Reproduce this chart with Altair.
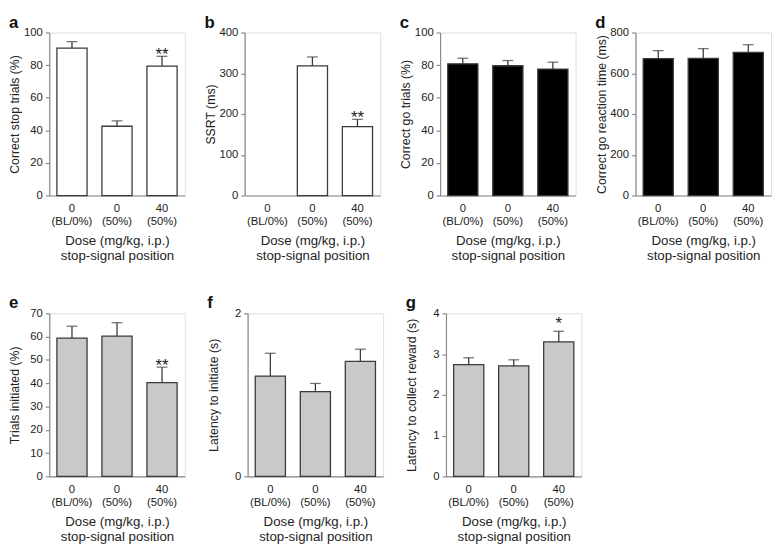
import altair as alt
import pandas as pd

# Condition labels (dose | stop-signal position)
categories = ["0|(BL/0%)", "0|(50%)", "40|(50%)"]

# a: Correct stop trials (%)
a_mean = [90.4, 42.5, 79.4]
a_sem = [4.0, 3.3, 6.0]
a_sig = ["", "", "**"]

# b: SSRT (ms) - no value for baseline
b_mean = [None, 318.0, 169.0]
b_sem = [None, 22.0, 18.0]
b_sig = ["", "", "**"]

# c: Correct go trials (%)
c_mean = [80.8, 79.6, 77.6]
c_sem = [3.4, 3.2, 4.2]
c_sig = ["", "", ""]

# d: Correct go reaction time (ms)
d_mean = [672.0, 673.0, 703.0]
d_sem = [39.0, 48.0, 37.0]
d_sig = ["", "", ""]

# e: Trials initiated (%)
e_mean = [59.4, 60.2, 40.3]
e_sem = [5.1, 5.8, 6.6]
e_sig = ["", "", "**"]

# f: Latency to initiate (s)
f_mean = [1.23, 1.04, 1.41]
f_sem = [0.28, 0.10, 0.15]
f_sig = ["", "", ""]

# g: Latency to collect reward (s)
g_mean = [2.74, 2.71, 3.30]
g_sem = [0.17, 0.15, 0.26]
g_sig = ["", "", "*"]

FONT = "Liberation Sans"
TEXT = "#222222"
AXIS = "#8a8a8a"
EDGE = "#3a3a3a"
W, H = 138, 166


def panel(letter, means, sems, sig, fill, ymax, ystep, ytitle, star_dy):
    df = pd.DataFrame({"cond": categories, "mean": means, "sem": sems, "sig": sig})
    df["hi"] = df["mean"] + df["sem"]

    xenc = alt.X(
        "cond:N",
        scale=alt.Scale(domain=categories, paddingInner=0.33, paddingOuter=0.17),
        axis=alt.Axis(
            title=["Dose (mg/kg, i.p.)", "stop-signal position"],
            labelExpr="split(datum.value, '|')",
            labelAngle=0,
            ticks=False,
            labelPadding=7,
            labelLineHeight=13.5,
            labelFontSize=11.5,
            labelColor=TEXT,
            labelFont=FONT,
            titleFont=FONT,
            titleFontSize=13.5,
            titleLineHeight=15.5,
            titlePadding=7,
            titleFontWeight="normal",
            titleColor=TEXT,
            domainColor=AXIS,
            domainWidth=1.2,
        ),
    )

    yaxis = alt.Axis(
        values=list(range(0, ymax + 1, ystep)),
        format="d",
        title=ytitle,
        grid=False,
        tickSize=4,
        tickColor=AXIS,
        tickWidth=1.2,
        domainColor=AXIS,
        domainWidth=1.2,
        labelFontSize=11.5,
        labelColor=TEXT,
        labelFont=FONT,
        labelPadding=3,
        minExtent=25,
        maxExtent=25,
        titleFont=FONT,
        titleFontSize=12.5,
        titleFontWeight="normal",
        titleColor=TEXT,
        titlePadding=3,
    )
    yscale = alt.Scale(domain=[0, ymax], nice=False)

    base = alt.Chart(df)
    bars = base.mark_bar(fill=fill, stroke=EDGE, strokeWidth=1.3).encode(
        x=xenc, y=alt.Y("mean:Q", scale=yscale, axis=yaxis)
    )
    stems = base.mark_rule(color=EDGE, strokeWidth=1.3).encode(
        x=xenc, y=alt.Y("mean:Q", scale=yscale, axis=yaxis), y2="hi:Q"
    )
    caps = base.mark_tick(color=EDGE, thickness=1.3, size=11, orient="horizontal").encode(
        x=xenc, y=alt.Y("hi:Q", scale=yscale, axis=yaxis)
    )
    stars = base.mark_text(
        fontSize=17, font=FONT, color=TEXT, baseline="alphabetic", dy=star_dy
    ).encode(x=xenc, y=alt.Y("hi:Q", scale=yscale, axis=yaxis), text="sig:N")

    return alt.layer(bars, stems, caps, stars).properties(
        width=W,
        height=H,
        title=alt.TitleParams(
            text=letter,
            anchor="start",
            frame="bounds",
            fontSize=17,
            fontWeight="bold",
            font=FONT,
            color="#111111",
            baseline="alphabetic",
            offset=-18,
        ),
    )


WHITE, BLACK, GRAY = "#ffffff", "#000000", "#c9c9c9"

pa = panel("a", a_mean, a_sem, a_sig, WHITE, 100, 20, "Correct stop trials (%)", 4)
pb = panel("b", b_mean, b_sem, b_sig, WHITE, 400, 100, "SSRT (ms)", 4)
pc = panel("c", c_mean, c_sem, c_sig, BLACK, 100, 20, "Correct go trials (%)", 4)
pd_ = panel("d", d_mean, d_sem, d_sig, BLACK, 800, 200, "Correct go reaction time (ms)", 4)
pe = panel("e", e_mean, e_sem, e_sig, GRAY, 70, 10, "Trials initiated (%)", 4)
pf = panel("f", f_mean, f_sem, f_sig, GRAY, 2, 1, "Latency to initiate (s)", 4)
pg = panel("g", g_mean, g_sem, g_sig, GRAY, 4, 1, "Latency to collect reward (s)", -2)

top = alt.hconcat(pa, pb, pc, pd_, spacing=18)
bottom = alt.hconcat(pe, pf, pg, spacing=21)

chart = (
    alt.vconcat(top, bottom, spacing=31)
    .properties(padding=0, background="white")
    .configure_view(stroke=None)
    .configure(font=FONT)
)

chart.save("out.html", embed_options={"renderer": "svg", "actions": False})
